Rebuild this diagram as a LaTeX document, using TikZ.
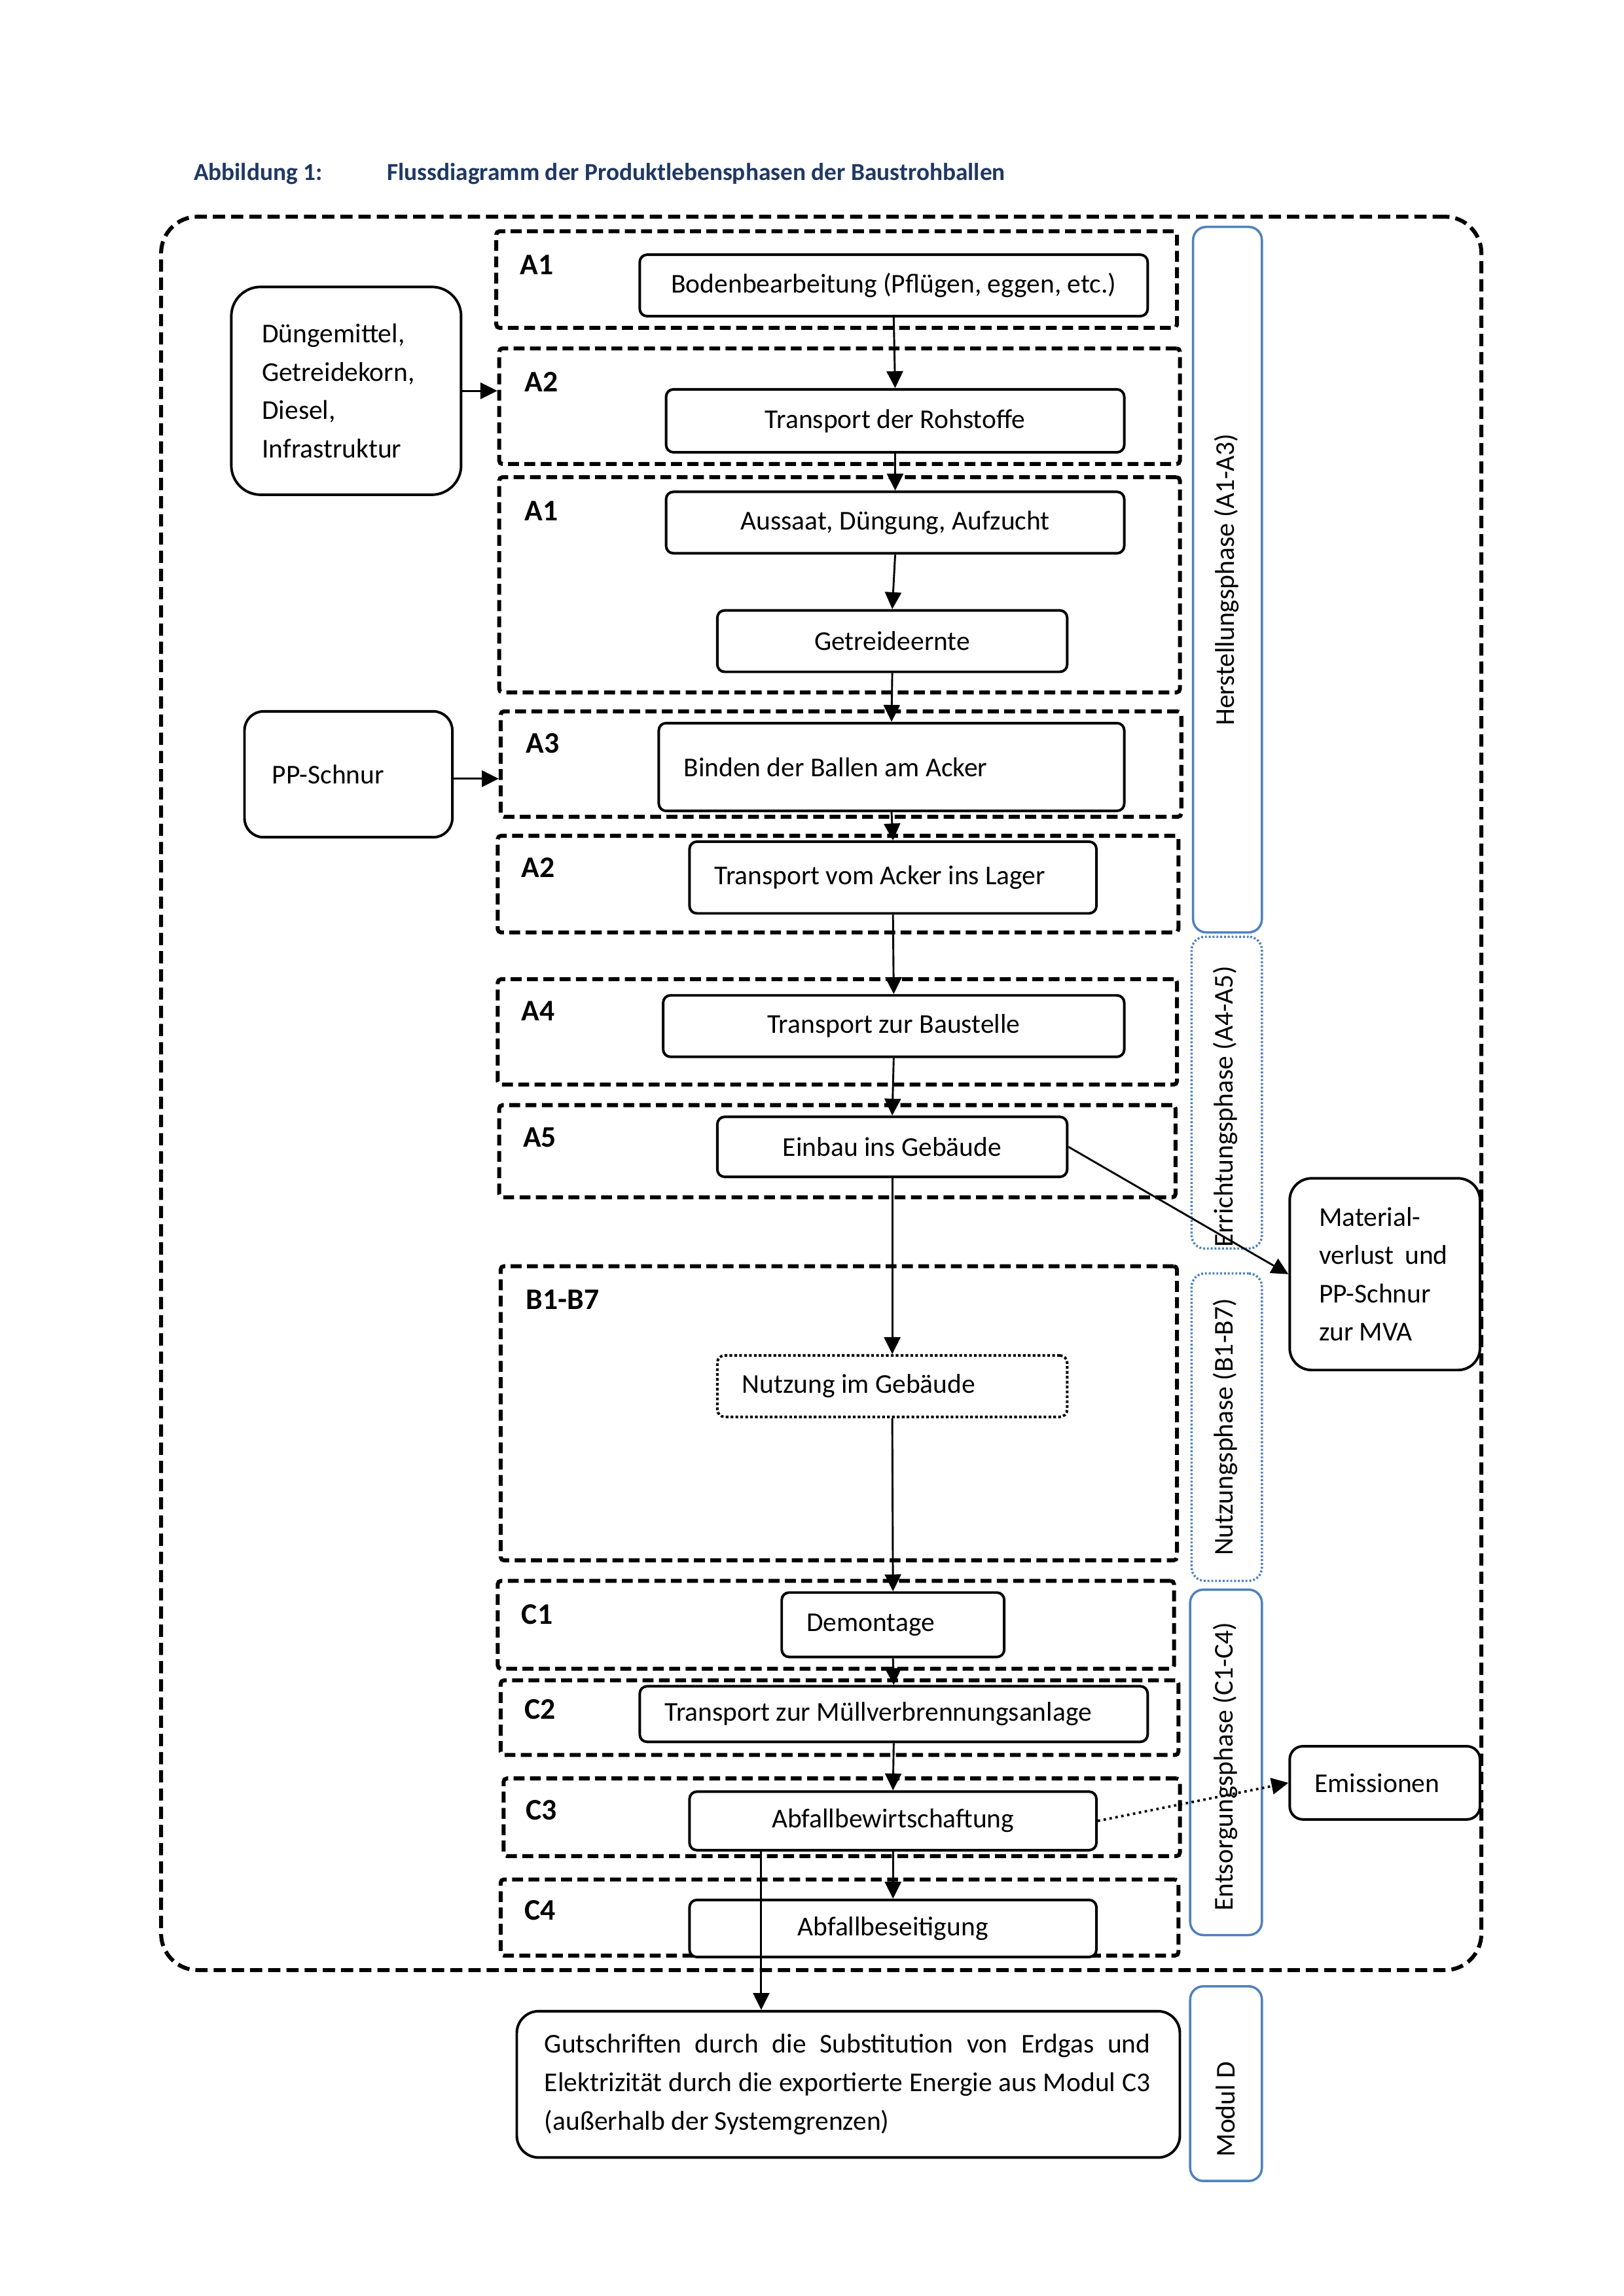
\documentclass[tikz,border=0pt]{standalone}
\usepackage{fontspec}
\setmainfont{Carlito}
\usetikzlibrary{arrows.meta,calc}
\definecolor{titleblue}{HTML}{1F3864}
\definecolor{barblue}{HTML}{4F81BD}
\newdimen\uu \uu=0.53873pt
\newcommand\js{\hskip 2.26pt plus 1fil minus 1.5pt\relax}
\newcommand\fullline[2]{\leavevmode\hbox to #1{#2}}
\newcommand\mkbox[7]{%
 \pgfmathsetmacro\cxx{(#3+#5)/2}%
 \pgfmathsetmacro\cyy{(#4+#6)/2}%
 \pgfmathsetmacro\www{(#5-#3)*0.53873}%
 \pgfmathsetmacro\hhh{(#6-#4)*0.53873}%
 \node[#2, minimum width=\www pt, minimum height=\hhh pt] (#1) at (\cxx,\cyy) {#7};}
\tikzset{
 grpbox/.style={draw, line width=1.45pt, dash pattern=on 4pt off 2pt, rounded corners=1.2pt, inner sep=0pt},
 flowbox/.style={draw, fill=white, line width=0.95pt, rounded corners=5\uu, inner sep=0pt, font=\fontsize{10}{14.1}\selectfont},
 leftbox/.style={flowbox, align=justify, execute at begin node={\spaceskip=0pt\xspaceskip=0pt\parfillskip=0pt plus 1fil\relax}},
 lab/.style={anchor=base west, inner sep=0pt, font=\fontsize{11}{13}\selectfont\bfseries},
 bar/.style={draw=barblue, line width=0.85pt, rounded corners=9\uu, inner sep=0pt},
 bardot/.style={bar, dash pattern=on 0.7pt off 0.7pt},
 bartext/.style={rotate=90, inner sep=0pt, font=\fontsize{10}{12}\selectfont},
 arr/.style={-{Triangle[length=6.2pt,width=6pt]}, line width=0.7pt},
 titletext/.style={anchor=base west, inner sep=0pt, text=titleblue, font=\fontsize{9}{11}\selectfont\bfseries},
}
\begin{document}
\begin{tikzpicture}[x=0.018934cm, y=-0.018934cm]
\fill[white] (0,0) rectangle (1109.1,1568.6);
\useasboundingbox (0,0) rectangle (1109.1,1568.6);

% title
\node[titletext] (tnum) at (132,123) {Abbildung 1:};
\node[titletext] (ttxt) at (264,123) {Flussdiagramm der Produktlebensphasen der Baustrohballen};

% outer system boundary
\mkbox{outer}{draw, line width=1.45pt, dash pattern=on 4.5pt off 2.2pt, rounded corners=25\uu, inner sep=0pt}{110}{148}{1012}{1346}{}

% phase group boxes
\mkbox{gA1a}{grpbox}{339}{158}{804}{224}{}
\mkbox{gA2a}{grpbox}{341}{238}{806}{317}{}
\mkbox{gA1b}{grpbox}{341}{326}{806}{473}{}
\mkbox{gA3}{grpbox}{342}{486}{807}{558}{}
\mkbox{gA2b}{grpbox}{340}{571}{805}{637}{}
\mkbox{gA4}{grpbox}{340}{669}{804}{741}{}
\mkbox{gA5}{grpbox}{341}{755}{803}{818}{}
\mkbox{gB}{grpbox}{342}{865}{804}{1066}{}
\mkbox{gC1}{grpbox}{340}{1080}{802}{1140}{}
\mkbox{gC2}{grpbox}{342}{1148}{805}{1199}{}
\mkbox{gC3}{grpbox}{344}{1215}{806}{1268}{}
\mkbox{gC4}{grpbox}{342}{1284}{805}{1336}{}

% group labels
\node[lab] (lA1a) at (355,187.5) {A1};
\node[lab] (lA2a) at (358,267.5) {A2};
\node[lab] (lA1b) at (358,355.5) {A1};
\node[lab] (lA3) at (359,514.5) {A3};
\node[lab] (lA2b) at (356,599.5) {A2};
\node[lab] (lA4) at (356,697.5) {A4};
\node[lab] (lA5) at (357,783.5) {A5};
\node[lab] (lB) at (359,894.5) {B1-B7};
\node[lab] (lC1) at (356,1109.5) {C1};
\node[lab] (lC2) at (358,1174.5) {C2};
\node[lab] (lC3) at (359,1243.5) {C3};
\node[lab] (lC4) at (358,1311.5) {C4};

% phase bars
\mkbox{bH}{bar}{815}{155}{862}{637}{}
\mkbox{bE}{bardot}{814}{640}{862}{853}{}
\mkbox{bN}{bardot}{814}{870}{862}{1080}{}
\mkbox{bC}{bar}{813}{1086}{862}{1322}{}
\mkbox{bD}{bar}{813}{1357}{862}{1490}{}
\node[bartext] (tH) at (838,396) {Herstellungsphase (A1-A3)};
\node[bartext] (tE) at (837,756) {Errichtungsphase (A4-A5)};
\node[bartext] (tN) at (837,975) {Nutzungsphase (B1-B7)};
\node[bartext] (tC) at (837,1207) {Entsorgungsphase (C1-C4)};
\node[bartext] (tD) at (837,1441) {Modul D};

% flow boxes
\mkbox{bod}{flowbox}{437}{174}{784}{216}{Bodenbearbeitung (Pflügen, eggen, etc.)}
\mkbox{trr}{flowbox}{455}{266}{768}{309}{Transport der Rohstoffe}
\mkbox{aus}{flowbox}{455}{336}{768}{378}{Aussaat, Düngung, Aufzucht}
\mkbox{get}{flowbox}{490}{417}{729}{459}{Getreideernte}
\mkbox{bin}{leftbox, text width=284\uu}{450}{494}{768}{554}{Binden der Ballen am Acker}
\mkbox{tva}{leftbox, text width=244\uu}{471}{575}{749}{624}{Transport vom Acker ins Lager}
\mkbox{tzb}{flowbox}{453}{680}{768}{722}{Transport zur Baustelle}
\mkbox{ein}{flowbox}{490}{763}{729}{804}{Einbau ins Gebäude}
\mkbox{nut}{leftbox, text width=205\uu, dash pattern=on 1pt off 0.8pt}{490}{926}{729}{968}{Nutzung im Gebäude}
\mkbox{dem}{leftbox, text width=118\uu}{534}{1088}{686}{1132}{Demontage}
\mkbox{tmv}{leftbox, text width=313\uu}{437}{1152}{784}{1190}{Transport zur Müllverbrennungsanlage}
\mkbox{abw}{flowbox}{471}{1224}{749}{1264}{Abfallbewirtschaftung}
\mkbox{abs}{flowbox}{471}{1298}{749}{1337}{Abfallbeseitigung}

% side boxes
\mkbox{dung}{leftbox, rounded corners=20\uu, text width=115\uu}{158}{196}{315}{338}{Düngemittel,\\Getreidekorn,\\Diesel,\\Infrastruktur}
\mkbox{pp}{leftbox, rounded corners=13\uu, text width=104\uu}{167}{486}{309}{572}{PP-Schnur}
\mkbox{mat}{leftbox, fill=none, rounded corners=15\uu, text width=90\uu}{881}{805}{1011}{936}{Material-\\\fullline{88\uu}{verlust\hfill und}\\PP-Schnur\\zur MVA}
\mkbox{emi}{leftbox, fill=none, rounded corners=9\uu, text width=96\uu}{881}{1193}{1011}{1243}{Emissionen}
\mkbox{gut}{leftbox, rounded corners=15\uu, text width=415\uu}{353}{1374}{806}{1474}{\fullline{414\uu}{Gutschriften\js durch\js die\js Substitution\js von\js Erdgas\js und}\\\fullline{414\uu}{Elektrizität\js durch\js die\js exportierte\js Energie\js aus\js Modul\js C3}\\(außerhalb der Systemgrenzen)}

% connectors
\draw[arr] (bod.south) -- (trr.north);
\draw[arr] (trr.south) -- (aus.north);
\draw[arr] (aus.south) -- (get.north);
\draw[arr] (get.south) -- (bin.north);
\draw[arr] (bin.south) -- (tva.north);
\draw[arr] (tva.south) -- (tzb.north);
\draw[arr] (tzb.south) -- (ein.north);
\draw[arr] (ein.south) -- (nut.north);
\draw[arr] (nut.south) -- (dem.north);
\draw[arr] (dem.south) -- (tmv.north);
\draw[arr] (tmv.south) -- (abw.north);
\draw[arr] (abw.south) -- (abs.north);
\coordinate (gx) at (520,1300);
\draw[arr] (abw.south -| gx) -- (gut.north -| gx);
\draw[arr] (dung.east) -- (dung.east -| gA2a.west);
\coordinate (ppy) at (300,532);
\draw[arr] (pp.east |- ppy) -- (gA3.west |- ppy);
\draw[arr] (ein.east) -- (mat.west);
\draw[arr, dash pattern=on 0.9pt off 1.3pt, line width=0.9pt] (abw.east) -- (emi.west);
\end{tikzpicture}
\end{document}
